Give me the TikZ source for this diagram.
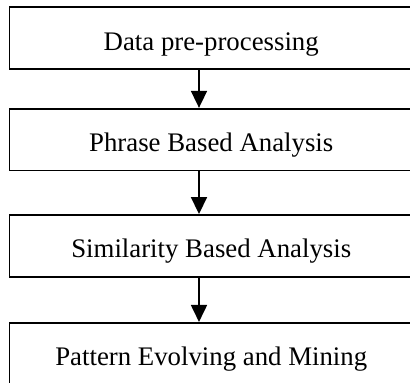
\documentclass[tikz,border=0pt]{standalone}
\usepackage{fontspec}
\setmainfont{Liberation Serif}
\usetikzlibrary{arrows.meta}
\begin{document}
\begin{tikzpicture}[x=1pt,y=1pt,
  stage/.style={draw, line width=1.8pt, minimum width=403.5pt, minimum height=61.7pt,
    inner sep=0pt, text height=29pt, text depth=5pt,
    font=\fontsize{26.8}{30}\selectfont},
  flow/.style={line width=1.8pt, -{Triangle[width=16pt,length=17pt]}}]
  \useasboundingbox (0,0) rectangle (410,-383);
  \clip (0,0) rectangle (410,-383);
  \node[stage] (pre) at (211.25,-38) {Data pre-processing};
  \node[stage] (phrase) at (211.25,-139.6) {Phrase Based Analysis};
  \node[stage] (sim) at (211.25,-245.8) {Similarity Based Analysis};
  \node[stage] (pat) at (211.25,-353.7) {Pattern Evolving and Mining};
  \coordinate (col) at (199,0);
  \draw[flow] (pre.south -| col) -- (phrase.north -| col);
  \draw[flow] (phrase.south -| col) -- (sim.north -| col);
  \draw[flow] (sim.south -| col) -- (pat.north -| col);
\end{tikzpicture}
\end{document}
